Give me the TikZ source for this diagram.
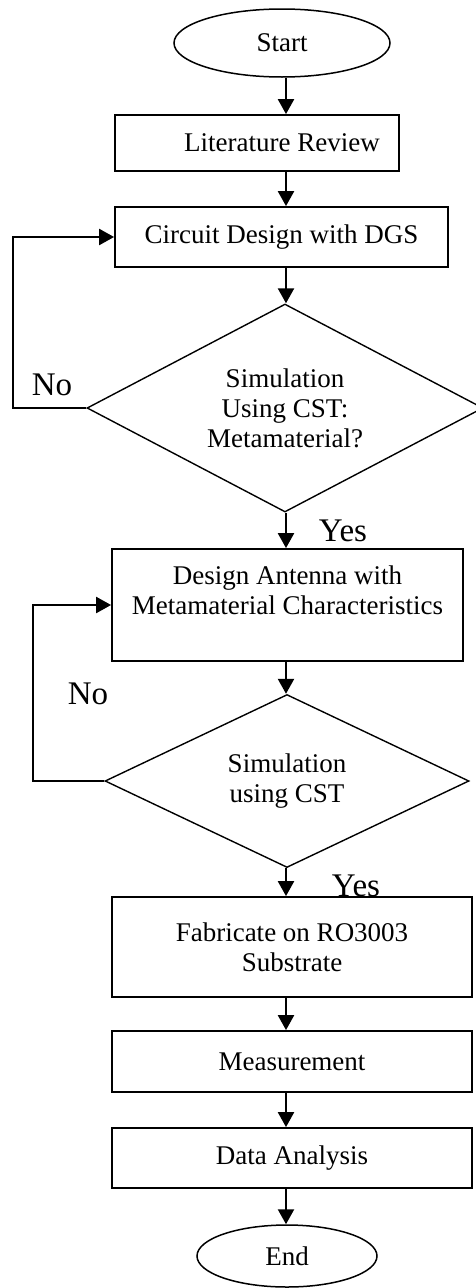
\documentclass[tikz,border=0pt]{standalone}
\usepackage{fontspec}
\setmainfont{Liberation Serif}
\usetikzlibrary{shapes.geometric,arrows.meta}

\begin{document}
\begin{tikzpicture}[x=1pt,y=-1pt,
  every node/.style={inner sep=0pt,font=\fontsize{27}{30}\selectfont},
  term/.style={draw,ellipse,line width=1.5pt},
  proc/.style={draw,rectangle,line width=1.8pt,align=center},
  check/.style={draw,diamond,line width=1.4pt,align=center},
  answer/.style={font=\fontsize{33}{36}\selectfont},
  flow/.style={line width=2.3pt,-{Triangle[width=16pt,length=15pt]}}]
\useasboundingbox (0,0) rectangle (475,1288);
\coordinate (axis) at (286,0);
\coordinate (loopa) at (13,0);
\coordinate (loopb) at (33,0);
\node[term,minimum width=216pt,minimum height=68pt] (start) at (282,43) {Start};
\node[proc,minimum width=284pt,minimum height=56pt] (lit) at (257,143) {\hspace*{50pt}Literature Review};
\node[proc,minimum width=333pt,minimum height=60pt] (circ) at (281.5,237) {Circuit Design with DGS};
\node[check,aspect=1.9,minimum width=396pt,minimum height=208pt] (sim1) at (285,408) {Simulation\\Using CST:\\Metamaterial?};
\node[answer] (no1) at (52,385) {No};
\node[answer] (yes1) at (343,531) {Yes};
\node[proc,minimum width=351pt,minimum height=112pt] (design) at (287.5,605) {Design Antenna with\\Metamaterial Characteristics\\ };
\node[check,aspect=2.1,minimum width=364pt,minimum height=173pt] (sim2) at (287,781) {Simulation\\using CST};
\node[answer] (no2) at (88,694) {No};
\node[answer] (yes2) at (356,886) {Yes};
\node[proc,minimum width=360pt,minimum height=100pt] (fab) at (292,947) {Fabricate on RO3003\\Substrate};
\node[proc,minimum width=360pt,minimum height=61pt] (meas) at (292,1061.5) {Measurement};
\node[proc,minimum width=360pt,minimum height=60pt] (data) at (292,1158) {Data Analysis};
\node[term,minimum width=180pt,minimum height=62pt] (end) at (287,1256) {End};
\draw[flow] (axis |- start.south) -- (axis |- lit.north);
\draw[flow] (axis |- lit.south) -- (axis |- circ.north);
\draw[flow] (axis |- circ.south) -- (axis |- sim1.north);
\draw[flow] (axis |- sim1.south) -- (axis |- design.north);
\draw[flow] (axis |- design.south) -- (axis |- sim2.north);
\draw[flow] (axis |- sim2.south) -- (axis |- fab.north);
\draw[flow] (axis |- fab.south) -- (axis |- meas.north);
\draw[flow] (axis |- meas.south) -- (axis |- data.north);
\draw[flow] (axis |- data.south) -- (axis |- end.north);
\draw[flow] (sim1.west) -- (loopa |- sim1.west) |- (circ.west);
\draw[flow] (sim2.west) -- (loopb |- sim2.west) |- (design.west);
\end{tikzpicture}
\end{document}
